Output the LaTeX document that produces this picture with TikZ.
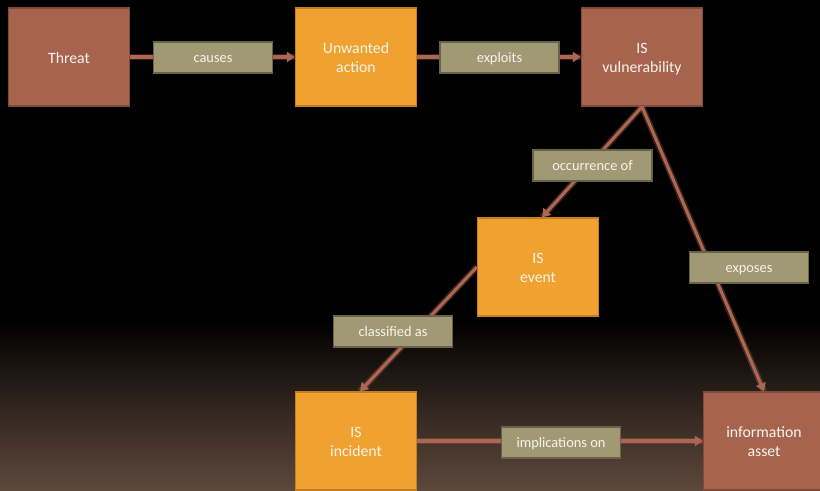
\documentclass[tikz,border=0pt]{standalone}
\usepackage{fontspec}
\setmainfont{Carlito}
\usetikzlibrary{arrows.meta}

\definecolor{rustbox}{RGB}{166,100,78}
\definecolor{rustline}{RGB}{128,74,56}
\definecolor{amberbox}{RGB}{239,162,47}
\definecolor{amberline}{RGB}{196,128,32}
\definecolor{khakibox}{RGB}{161,152,116}
\definecolor{khakiline}{RGB}{104,98,74}
\definecolor{linkcol}{RGB}{172,102,82}
\definecolor{floorcol}{RGB}{94,72,60}
\definecolor{paletext}{RGB}{248,244,236}

\tikzset{
  concept/.style={draw=#1line, fill=#1box, line width=1pt, minimum width=90.75pt, minimum height=73.5pt,
    align=center, text=paletext, font=\fontsize{11.8}{14.3}\selectfont, text height=23.5pt, text depth=0pt},
  relbox/.style={draw=khakiline, fill=khakibox, line width=1pt, minimum width=89.25pt, minimum height=23.25pt,
    text=paletext, font=\fontsize{10.8}{12}\selectfont, text height=8.2pt, text depth=0pt},
  link/.style={draw=linkcol, line width=2.4pt, -{Triangle[width=7.5pt,length=6pt]}},
  linkglow/.style={draw=linkcol, line width=4.8pt, opacity=0.3}
}

\begin{document}
\begin{tikzpicture}[x=0.75pt,y=0.75pt,yscale=-1,xscale=1]
\useasboundingbox (0,0) rectangle (820,490);
\clip (0,0) rectangle (820,490);

% background
\fill[black] (0,0) rectangle (820,320);
\shade[top color=black, bottom color=floorcol] (0,319) rectangle (820,490);

% Concept boxes
\node[concept=rust, text height=9pt] (threat) at (69,57) {Threat};
\node[concept=amber] (action) at (356,57) {Unwanted\\action};
\node[concept=rust] (vuln) at (642,57) {IS\\vulnerability};
\node[concept=amber] (event) at (538,267) {IS\\event};
\node[concept=amber] (incident) at (356,441) {IS\\incident};
\node[concept=rust] (asset) at (764,441) {information\\asset};

% Links
\draw[linkglow] (threat) -- (action);
\draw[link] (threat) -- (action);
\draw[linkglow] (action) -- (vuln);
\draw[link] (action) -- (vuln);
\draw[linkglow] (vuln.south) -- ([xshift=3pt]event.north);
\draw[link] (vuln.south) -- ([xshift=3pt]event.north);
\draw[linkglow] (vuln.south) -- (asset.north);
\draw[link] (vuln.south) -- (asset.north);
\draw[linkglow] (event.west) -- ([xshift=3pt]incident.north);
\draw[link] (event.west) -- ([xshift=3pt]incident.north);
\draw[linkglow] (incident) -- (asset);
\draw[link] (incident) -- (asset);

% Relation labels
\node[relbox] (causes) at (213,57.5) {causes};
\node[relbox] (exploits) at (499.5,57.5) {exploits};
\node[relbox] (occurs) at (592.5,165.5) {occurrence of};
\node[relbox] (exposes) at (749,267.5) {exposes};
\node[relbox] (classed) at (393,331.5) {classified as};
\node[relbox] (implies) at (561,442.5) {implications on};

\end{tikzpicture}
\end{document}
